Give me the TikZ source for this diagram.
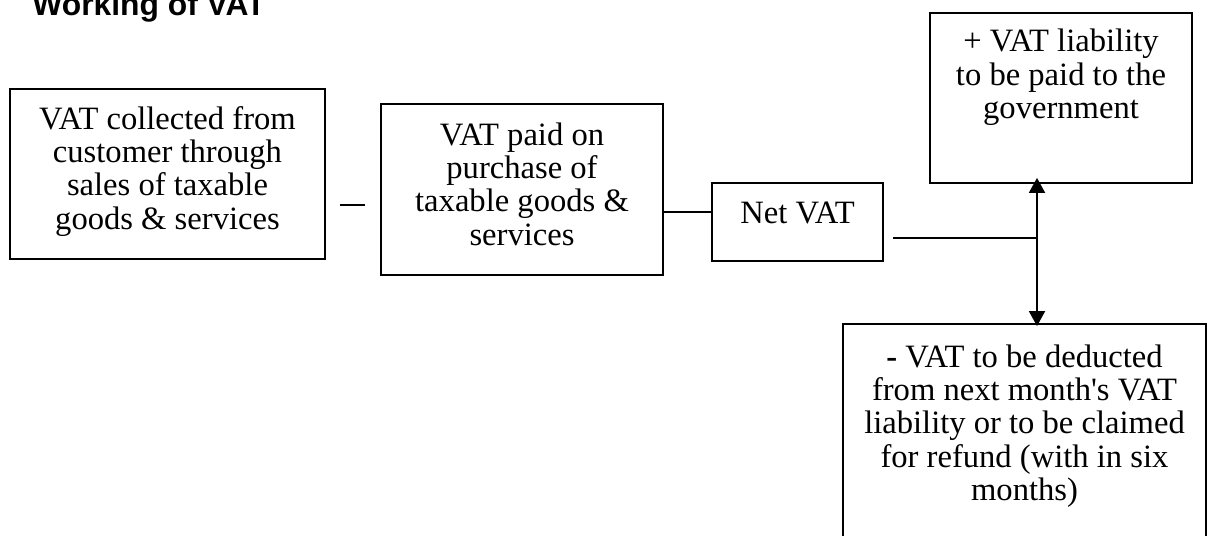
\documentclass[tikz,border=0pt]{standalone}
\usepackage{fontspec}
\setmainfont{Liberation Serif}
\newfontfamily\titlefont{Liberation Sans}
\usetikzlibrary{positioning, arrows.meta}

% text of a box: [first baseline]{width}{height}{lines}
\newcommand{\vatbox}[4][20pt]{\parbox[c][#3][t]{#2}{\centering\rule{0pt}{#1}#4}}

\begin{document}
\begin{tikzpicture}[x=0.5pt, y=-0.5pt]
        \tikzstyle{box} = [rectangle, draw=black, line width=0.9pt, inner sep=0pt, font=\fontsize{16.3pt}{16.7pt}\selectfont]
        \tikzstyle{link} = [line width=0.9pt]

        \useasboundingbox (0,0) rectangle (1208,535);
        \clip (0,0) rectangle (1208,535);

        \node[anchor=base west, inner sep=0pt, font=\titlefont\bfseries\fontsize{15.9pt}{18pt}\selectfont] (title) at (32,16) {Working of VAT};

        \node[box] (sales) at (167.5,174) {\vatbox{157.5pt}{85pt}{VAT collected from\\customer through\\sales of taxable\\goods \& services}};
        \node[inner sep=0pt] (sub) at (352.5,205) {\rule{12.5pt}{0.9pt}};
        \node[box] (purch) at (522,189.5) {\vatbox[20.5pt]{141pt}{85.5pt}{VAT paid on\\purchase of\\taxable goods \&\\services}};
        \node[box] (net) at (797.5,222) {\vatbox{85.5pt}{39pt}{Net VAT}};
        \node[box] (plus) at (1061,98) {\vatbox[19.5pt]{131pt}{85pt}{+ VAT liability\\to be paid to the\\government}};
        \node[box] (minus) at (1024.5,447) {\vatbox[21.5pt]{181.5pt}{123pt}{\textbf{-} VAT to be deducted\\from next month\textquotesingle s VAT\\liability or to be claimed\\for refund (with in six\\months)}};

        \coordinate (tap) at (893,238);
        \coordinate (split) at (1037,238);

        \draw[link] (purch.east |- 0,212) -- (net.west |- 0,212);
        \draw[link] (tap) -- (split);
        \draw[link, {Triangle[length=7.5pt, width=8pt]}-{Triangle[length=7.5pt, width=8pt]}, shorten <=-3pt, shorten >=-1.5pt] (plus.south -| split) -- (minus.north -| split);
    \end{tikzpicture}
\end{document}
